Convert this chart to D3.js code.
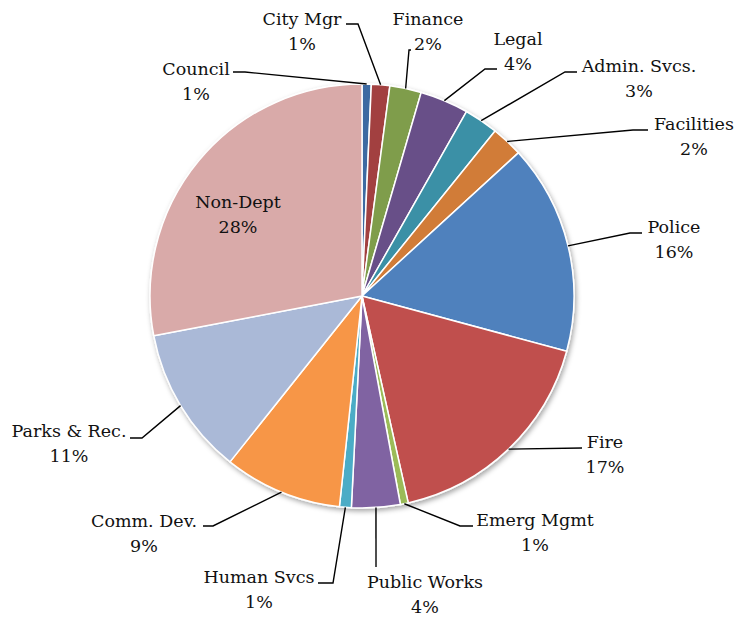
<!DOCTYPE html>
<html>
<head>
<meta charset="utf-8">
<script src="https://cdn.jsdelivr.net/npm/d3@7"></script>
<style>
  html, body { margin: 0; padding: 0; background: #fff; }
</style>
</head>
<body>
<svg id="chart" width="739" height="618"></svg>
<script>
// Budget share by department, clockwise from 12 o'clock
const departments = ["Council", "City Mgr", "Finance", "Legal", "Admin. Svcs.", "Facilities",
  "Police", "Fire", "Emerg Mgmt", "Public Works", "Human Svcs", "Comm. Dev.", "Parks & Rec.", "Non-Dept"];
const shares = [0.7, 1.4, 2.4, 3.7, 2.6, 2.4, 16.0, 17.3, 0.6, 3.7, 0.9, 9.0, 11.3, 28.0];
const sliceColors = ["#3C6BA2", "#A2413F", "#7F9D4B", "#684F88", "#3A90A6", "#D17B37",
  "#4F81BD", "#C0504D", "#9BBB59", "#8064A2", "#4BACC6", "#F79646", "#AAB9D7", "#D9AAA9"];

// Label placement: text centre x, first baseline y, and the bend/end of each leader line
const labelLayout = [
  { x: 196, y: 75,  leader: [[245, 72], [233, 72]] },
  { x: 302, y: 25,  leader: [[358, 24], [346, 24]] },
  { x: 428, y: 25,  leader: [[409, 50], [411, 50]] },
  { x: 518, y: 45,  leader: [[485, 69], [497, 69]] },
  { x: 639, y: 72,  leader: [[565, 72], [577, 72]] },
  { x: 694, y: 130, leader: [[633, 130], [648, 130]] },
  { x: 674, y: 233, leader: [[630, 233], [642, 233]] },
  { x: 605, y: 448, leader: [[582, 448]] },
  { x: 535, y: 526, leader: [[460, 526], [473, 526]] },
  { x: 425, y: 588, leader: [[376, 567]] },
  { x: 259, y: 583, leader: [[333, 583], [318, 583]] },
  { x: 144, y: 527, leader: [[213, 526], [203, 526]] },
  { x: 69,  y: 437, leader: [[142, 438], [130, 438]] },
  { x: 238, y: 208, leader: null }
];

const cx = 362, cy = 296, radius = 212;
const svg = d3.select("#chart");

const defs = svg.append("defs");
const shadow = defs.append("filter").attr("id", "pieShadow")
  .attr("x", "-10%").attr("y", "-10%").attr("width", "120%").attr("height", "120%");
shadow.append("feDropShadow")
  .attr("dx", 1.5).attr("dy", 2.5).attr("stdDeviation", 2.5)
  .attr("flood-color", "#000").attr("flood-opacity", 0.35);

const data = departments.map((name, i) => ({ name, value: shares[i], color: sliceColors[i], layout: labelLayout[i] }));
const total = d3.sum(shares);

const pie = d3.pie().value(d => d.value).sort(null);
const arcs = pie(data);
const arc = d3.arc().innerRadius(0).outerRadius(radius);

const g = svg.append("g").attr("transform", `translate(${cx},${cy})`);

g.append("g").attr("filter", "url(#pieShadow)")
  .selectAll("path")
  .data(arcs)
  .join("path")
  .attr("d", arc)
  .attr("fill", d => d.data.color)
  .attr("stroke", "#fff")
  .attr("stroke-width", 1.5)
  .attr("stroke-linejoin", "round");

// Leader lines start on the rim at the middle of each slice
const line = d3.line();
svg.append("g")
  .selectAll("path")
  .data(arcs.filter(d => d.data.layout.leader))
  .join("path")
  .attr("d", d => {
    const mid = (d.startAngle + d.endAngle) / 2;
    const start = [cx + radius * Math.sin(mid), cy - radius * Math.cos(mid)];
    return line([start, ...d.data.layout.leader]);
  })
  .attr("fill", "none")
  .attr("stroke", "#000")
  .attr("stroke-width", 1.4);

const labels = svg.append("g")
  .attr("font-family", "'DejaVu Serif', serif")
  .attr("font-size", 17.5)
  .attr("fill", "#111")
  .selectAll("text")
  .data(arcs)
  .join("text")
  .attr("text-anchor", "middle")
  .attr("x", d => d.data.layout.x)
  .attr("y", d => d.data.layout.y);

labels.append("tspan")
  .attr("x", d => d.data.layout.x)
  .text(d => d.data.name);
labels.append("tspan")
  .attr("x", d => d.data.layout.x)
  .attr("dy", 25)
  .text(d => Math.round(d.data.value / total * 100) + "%");
</script>
</body>
</html>
